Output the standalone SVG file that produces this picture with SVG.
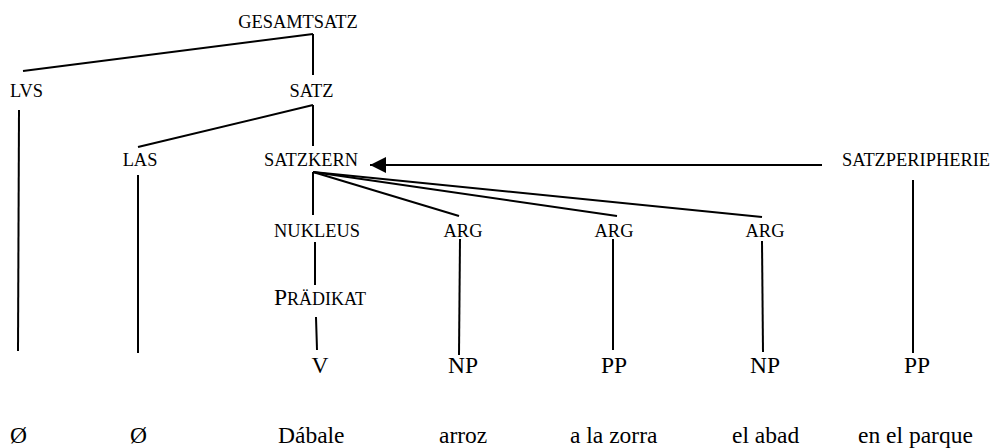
<svg xmlns="http://www.w3.org/2000/svg" width="992" height="448" viewBox="0 0 992 448">
  <style>
    text { font-family: "Liberation Serif", "Times New Roman", serif; fill: #000; }
    .cat { font-size: 18.4px; text-anchor: middle; }
    .big { font-size: 23.5px; }
    .mid { text-anchor: middle; }
    .edge { stroke: #000; stroke-width: 2; fill: none; stroke-linecap: butt; }
  </style>
  <defs>
    <marker id="arrow" markerUnits="userSpaceOnUse" markerWidth="17" markerHeight="16" refX="16" refY="8" orient="auto">
      <path d="M0,0 L16,8 L0,16 Z" fill="#000"/>
    </marker>
  </defs>
  <rect width="992" height="448" fill="#fff"/>

  <g id="connectors">
    <!-- GESAMTSATZ -->
    <line class="edge" x1="313" y1="34" x2="23" y2="71"/>
    <line class="edge" x1="313" y1="34" x2="313" y2="75"/>
    <!-- SATZ -->
    <line class="edge" x1="313" y1="105" x2="138" y2="147"/>
    <line class="edge" x1="313" y1="105" x2="313" y2="146"/>
    <!-- SATZKERN fan -->
    <line class="edge" x1="313" y1="172" x2="313" y2="215"/>
    <line class="edge" x1="313" y1="172" x2="459" y2="216"/>
    <line class="edge" x1="313" y1="172" x2="617" y2="216"/>
    <line class="edge" x1="313" y1="172" x2="762" y2="217"/>
    <!-- SATZPERIPHERIE modifies SATZKERN -->
    <line class="edge" x1="822" y1="165" x2="370" y2="165" marker-end="url(#arrow)"/>
    <!-- vertical projections -->
    <line class="edge" x1="19" y1="110" x2="18" y2="351"/>
    <line class="edge" x1="138" y1="175" x2="138" y2="353"/>
    <line class="edge" x1="315" y1="242" x2="315" y2="285"/>
    <line class="edge" x1="316" y1="317" x2="317" y2="350"/>
    <line class="edge" x1="460" y1="239" x2="459" y2="355"/>
    <line class="edge" x1="613" y1="239" x2="613" y2="350"/>
    <line class="edge" x1="762" y1="241" x2="763" y2="352"/>
    <line class="edge" x1="913" y1="180" x2="913" y2="353"/>
  </g>

  <g id="gesamtsatz"><text class="cat" x="298" y="28">GESAMTSATZ</text></g>
  <g id="lvs"><text class="cat" x="26.5" y="97">LVS</text></g>
  <g id="satz"><text class="cat" x="311.5" y="97">SATZ</text></g>
  <g id="las"><text class="cat" x="140" y="166">LAS</text></g>
  <g id="satzkern"><text class="cat" x="311" y="166">SATZKERN</text></g>
  <g id="satzperipherie"><text class="cat" x="916" y="166">SATZPERIPHERIE</text></g>
  <g id="nukleus"><text class="cat" x="317" y="237">NUKLEUS</text></g>
  <g id="arg1"><text class="cat" x="463" y="237">ARG</text></g>
  <g id="arg2"><text class="cat" x="614" y="237">ARG</text></g>
  <g id="arg3"><text class="cat" x="765" y="237">ARG</text></g>
  <g id="praedikat"><text x="274" y="305"><tspan font-size="23.5">P</tspan><tspan font-size="18">RÄDIKAT</tspan></text></g>

  <g id="v"><text class="big mid" x="320" y="373">V</text></g>
  <g id="np1"><text class="big mid" x="463" y="373">NP</text></g>
  <g id="pp1"><text class="big mid" x="614" y="373">PP</text></g>
  <g id="np2"><text class="big mid" x="765" y="373">NP</text></g>
  <g id="pp2"><text class="big mid" x="917" y="373">PP</text></g>

  <g id="words">
    <text class="big" x="10" y="443">Ø</text>
    <text class="big" x="130" y="443">Ø</text>
    <text class="big" x="278" y="443">Dábale</text>
    <text class="big" x="439" y="443">arroz</text>
    <text class="big" x="570" y="443">a la zorra</text>
    <text class="big" x="732" y="443">el abad</text>
    <text class="big" x="858" y="443">en el parque</text>
  </g>
</svg>
